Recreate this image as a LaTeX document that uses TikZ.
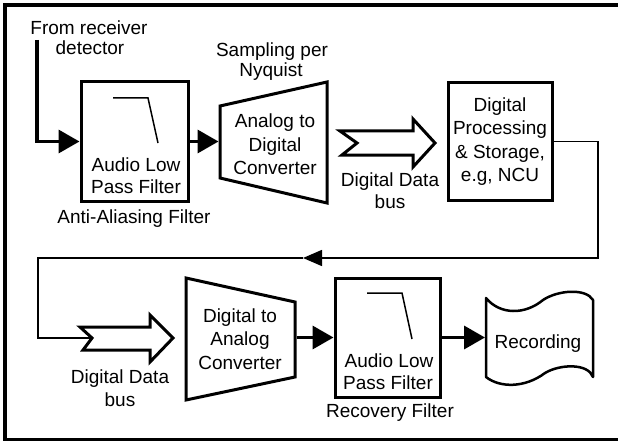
\documentclass[tikz,border=0pt]{standalone}
\usepackage{fontspec}
\setmainfont{Liberation Sans}
\usetikzlibrary{arrows.meta}
\begin{document}
\begin{tikzpicture}[x=1pt,y=-1pt,
  txt/.style={inner sep=0pt, anchor=base, font=\fontsize{19}{22}\selectfont},
  box/.style={draw, line width=3pt, inner sep=0pt},
  blockline/.style={line width=3pt, line join=miter},
  busline/.style={line width=3pt, line join=miter, fill=white},
  arr/.style={line width=3.5pt, -{Triangle[length=21pt,width=23pt]}},
  thinc/.style={line width=1.5pt},
  thinarr/.style={line width=1.5pt, -{Triangle[length=19pt,width=16pt]}},
  curve/.style={line width=1.5pt}
]
\useasboundingbox (0,0) rectangle (618,441);
% frame
\draw[line width=4pt] (5,5) rectangle (630,439.5);

% input
\coordinate (src) at (37,40);
\node[txt] (t1) at (89,35) {From receiver};
\node[txt] (t2) at (90,55) {detector};

% anti-aliasing filter
\node[box, minimum width=107pt, minimum height=119pt] (lpfA) at (134.5,141.5) {};
\draw[curve] (113,98) -- (148,98) -- (158,143);
\node[txt] (a1) at (136,171) {Audio Low};
\node[txt] (a2) at (136,193) {Pass Filter};
\node[txt] (a3) at (134,223) {Anti-Aliasing Filter};
\draw[arr] (src) |- (lpfA.west);

% ADC
\coordinate (adcW) at (218.5,141.5);
\draw[blockline] (220,106) -- (327,82) -- (327,203) -- (220,178) -- cycle;
\node[txt] (s1) at (272,57) {Sampling per};
\node[txt] (s2) at (271,77) {Nyquist};
\node[txt] (c1) at (275,128) {Analog to};
\node[txt] (c2) at (275,151) {Digital};
\node[txt] (c3) at (275,174) {Converter};
\draw[arr] (lpfA.east) -- (adcW);

% bus 1
\draw[busline] (340,131) -- (413,131) -- (413,119) -- (435,143) -- (413,167) -- (413,155) -- (342,155) -- (357,143) -- cycle;
\node[txt] (b1) at (390,186) {Digital Data};
\node[txt] (b2) at (390,208) {bus};

% DPS
\node[box, minimum width=104pt, minimum height=117pt] (dps) at (500,141.5) {};
\node[txt] (d1) at (500,112) {Digital};
\node[txt] (d2) at (500,135) {Processing};
\node[txt] (d3) at (500,158) {\& Storage,};
\node[txt] (d4) at (500,181) {e.g, NCU};

% return connector
\coordinate (r2) at (598,258);
\coordinate (mid) at (303,258);
\coordinate (l1) at (38,258);
\coordinate (l2) at (38,338);
\coordinate (bus2n) at (92,338);
\draw[thinarr] (dps.east) -| (r2) -- (mid);
\draw[thinc] (mid) -- (l1) -- (l2) -- (bus2n);

% bus 2
\draw[busline] (80,327) -- (150,327) -- (150,315) -- (173,338) -- (150,362) -- (150,350) -- (83,350) -- (92,338) -- cycle;
\node[txt] (e1) at (120,383) {Digital Data};
\node[txt] (e2) at (120,406) {bus};

% DAC
\draw[blockline] (186,278) -- (295,302) -- (295,377) -- (186,400) -- cycle;
\coordinate (dacE) at (296.5,337.5);
\node[txt] (f1) at (240,322) {Digital to};
\node[txt] (f2) at (240,345) {Analog};
\node[txt] (f3) at (240,369) {Converter};

% recovery filter
\node[box, minimum width=105pt, minimum height=119pt] (lpfB) at (387.5,337.5) {};
\draw[curve] (367,293) -- (402,293) -- (412,339);
\node[txt] (g1) at (389,367) {Audio Low};
\node[txt] (g2) at (388,389) {Pass Filter};
\node[txt] (g3) at (390,417) {Recovery Filter};
\draw[arr] (dacE) -- (lpfB.west);

% recording
\draw[line width=2.5pt, line join=round] (486,298) .. controls (500,315) and (525,315) .. (543,300)
  .. controls (558,290) and (586,288) .. (593,300) -- (593,377)
  .. controls (588,363) and (560,364) .. (545,373)
  .. controls (525,388) and (500,388) .. (486,377) -- cycle;
\coordinate (recW) at (485,337.5);
\node[txt] (h1) at (538,348) {Recording};
\draw[arr] (lpfB.east) -- (recW);
\end{tikzpicture}
\end{document}
